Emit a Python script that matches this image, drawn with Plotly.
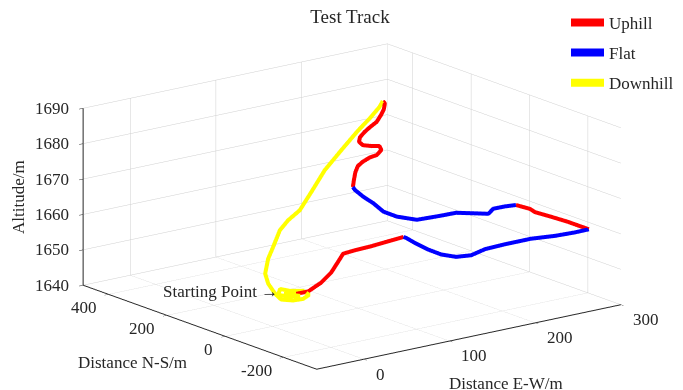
import plotly.graph_objects as go

# ---- data (metres) ----
# Uphill segments
up1_x = [76.4, 83.7, 91.5, 97.6, 101.8, 104.9, 112.2, 121.8, 132.1, 141.4]
up1_y = [143.4, 123.5, 102.1, 85.6, 74.1, 65.7, 45.9, 19.5, -8.5, -33.9]
up1_z = [1641.0, 1641.9, 1644.6, 1647.6, 1650.8, 1653.2, 1654.4, 1655.8, 1657.5, 1659.0]

flat1_x = [141.4, 141.5, 137.7, 133.9, 133.4, 139.5, 153.8, 176.6, 200.0, 231.4, 254.9, 276.6, 293.2]
flat1_y = [-33.9, -42.4, -83.4, -140.2, -186.4, -219.9, -229.3, -210.2, -206.4, -206.3, -219.5, -224.1, -223.2]
flat1_z = [1659.0] * 13

up2_x = [293.2, 283.0, 274.3, 258.0, 241.0, 238.9, 224.2]
up2_y = [-223.2, -215.6, -206.8, -199.9, -191.9, -180.8, -176.0]
up2_z = [1659.0, 1660.4, 1661.6, 1663.6, 1665.6, 1666.3, 1668.0]

flat2_x = [224.2, 213.3, 200.1, 186.1, 177.2, 164.4, 146.5, 121.3, 113.1, 113.4, 123.1, 129.1, 136.7, 141.3]
flat2_y = [-176.0, -170.4, -169.3, -193.4, -174.0, -146.4, -144.3, -138.6, -94.1, -47.4, 15.6, 67.8, 118.5, 139.1]
flat2_z = [1668.0] * 14

up3_x = [141.3, 147.7, 155.0, 161.1, 164.9, 168.5, 170.1, 175.0, 175.8, 160.8, 145.1, 142.8, 146.9,
         152.5, 156.6, 162.3, 169.0, 175.5, 180.7, 180.1]
up3_y = [139.1, 154.4, 170.7, 180.3, 174.3, 160.9, 141.6, 140.5, 149.9, 131.2, 116.0, 122.7, 131.4,
         131.9, 125.8, 119.5, 124.6, 133.5, 145.2, 150.4]
up3_z = [1668.0, 1669.2, 1670.6, 1671.7, 1672.9, 1674.3, 1675.5, 1676.7, 1677.5, 1678.8, 1680.3, 1681.2,
         1682.0, 1683.2, 1684.5, 1685.9, 1687.3, 1688.4, 1689.4, 1690.0]

# Downhill (ends with GPS jitter around the starting point)
down_x = [180.1, 174.8, 164.9, 153.6, 136.9, 119.3, 99.8, 83.5, 75.4, 66.3, 51.8, 41.9, 30.0, 25.6,
          26.9, 50.3, 57.2, 67.8, 80.5, 84.2, 74.4, 71.1, 57.3, 63.2, 71.7, 63.8, 76.4]
down_y = [150.4, 146.2, 150.1, 158.1, 166.2, 171.2, 159.7, 151.6, 167.9, 169.4, 149.8, 137.5, 112.9,
          89.6, 70.5, 117.8, 97.0, 93.8, 110.6, 142.1, 158.1, 182.5, 148.7, 124.9, 115.6, 147.3, 143.4]
down_z = [1690.0, 1688.7, 1685.9, 1682.7, 1677.8, 1672.9, 1668.1, 1664.0, 1661.1, 1658.7, 1655.3,
          1652.9, 1650.0, 1648.1, 1645.8, 1641.5, 1641.5, 1641.5, 1641.5, 1641.5, 1641.5, 1641.5,
          1641.5, 1641.5, 1641.5, 1641.5, 1641.0]

x_ticks = [0, 100, 200, 300]
y_ticks = [-200, 0, 200, 400]
z_ticks = [1640, 1650, 1660, 1670, 1680, 1690]
x_range = [-55, 300]
y_range = [-313, 487]
z_range = [1640, 1690]

FONT = "Liberation Serif, Times New Roman, serif"
TXT = "#262626"
RED, BLUE, YELLOW = "#ff0000", "#0000ff", "#ffff00"
LW = 8

# page body has an 8px margin; figure sized so it fits the 683x390 window
W, H = 675, 382

fig = go.Figure()

segments = [
    (up1_x, up1_y, up1_z, RED, "Uphill", True, "g1"),
    (flat1_x, flat1_y, flat1_z, BLUE, "Flat", True, "g2"),
    (down_x, down_y, down_z, YELLOW, "Downhill", True, "g3"),
    (up2_x, up2_y, up2_z, RED, "Uphill", False, "g1"),
    (flat2_x, flat2_y, flat2_z, BLUE, "Flat", False, "g2"),
    (up3_x, up3_y, up3_z, RED, "Uphill", False, "g1"),
]
for sx, sy, sz, col, name, show, grp in segments:
    fig.add_trace(go.Scatter3d(
        x=sx, y=sy, z=sz, mode="lines",
        line=dict(color=col, width=LW),
        name=name, showlegend=show, legendgroup=grp,
        hoverinfo="skip",
    ))

axis_common = dict(
    showbackground=False,
    gridcolor="#cfcfcf", gridwidth=1,
    showline=True, linecolor=TXT, linewidth=2,
    zeroline=False, showspikes=False,
    ticks="outside", ticklen=5, tickcolor=TXT,
    showticklabels=False,
    title=dict(text=""),
)

tfont = dict(family=FONT, size=17, color=TXT)
scene_ann = []
for zt in z_ticks:
    scene_ann.append(dict(x=x_range[0], y=y_range[1], z=min(zt, z_range[1] - 0.01), text=str(zt),
                          showarrow=False, xanchor="right", yanchor="middle", xshift=-12,
                          font=tfont))
for yt in y_ticks:
    scene_ann.append(dict(x=x_range[0], y=yt, z=z_range[0], text=str(yt),
                          showarrow=False, xanchor="right", yanchor="middle",
                          xshift=-10, yshift=-13, font=tfont))
for xt in x_ticks:
    scene_ann.append(dict(x=xt, y=y_range[0], z=z_range[0], text=str(xt), showarrow=False,
                          xanchor="left", yanchor="middle", xshift=10, yshift=-15, font=tfont))
scene_ann.append(dict(
    x=up1_x[0], y=up1_y[0], z=up1_z[0],
    text="Starting Point →", showarrow=False,
    xanchor="right", yanchor="middle", xshift=-16, yshift=2, font=tfont,
))

eye_dir = (-0.585, -0.762, 0.276)
k = 2.0
S = 2.09  # box scale


def px(x):
    return (x - 8) / W


def py(y):
    return 1 - (y - 8) / H


fig.update_layout(
    width=W, height=H,
    margin=dict(l=0, r=0, t=0, b=0, autoexpand=False),
    paper_bgcolor="white",
    font=dict(family=FONT, size=17, color=TXT),
    title=dict(text="Test Track", x=px(350), y=py(16), xref="paper", yref="container",
               xanchor="center", yanchor="middle",
               font=dict(family=FONT, size=19, color=TXT)),
    showlegend=True,
    legend=dict(x=px(566), y=1.008, xanchor="left", yanchor="top", itemwidth=33,
                font=dict(family=FONT, size=17, color=TXT),
                bgcolor="rgba(0,0,0,0)", traceorder="grouped", tracegroupgap=5),
    scene=dict(
        domain=dict(x=[px(352) - 0.48, px(352) + 0.48], y=[py(206.5) - 0.48, py(206.5) + 0.48]),
        xaxis=dict(range=x_range, tickvals=x_ticks, **axis_common),
        yaxis=dict(range=y_range, tickvals=y_ticks, **axis_common),
        zaxis=dict(range=z_range, tickvals=z_ticks, **axis_common),
        aspectmode="manual", aspectratio=dict(x=S, y=S, z=0.48 * S),
        camera=dict(
            projection=dict(type="orthographic"),
            eye=dict(x=eye_dir[0] * k, y=eye_dir[1] * k, z=eye_dir[2] * k),
            up=dict(x=0, y=0, z=1),
            center=dict(x=0, y=0, z=0),
        ),
        annotations=scene_ann,
    ),
    annotations=[
        dict(text="Altitude/m", x=px(18), y=py(197), xref="paper", yref="paper",
             xanchor="center", yanchor="middle",
             showarrow=False, textangle=-90, font=tfont),
        dict(text="Distance N-S/m", x=px(132), y=py(362), xref="paper", yref="paper",
             xanchor="center", yanchor="middle", showarrow=False, font=tfont),
        dict(text="Distance E-W/m", x=px(506), y=py(383), xref="paper", yref="paper",
             xanchor="center", yanchor="middle", showarrow=False, font=tfont),
    ],
)

fig.write_html("out.html")
